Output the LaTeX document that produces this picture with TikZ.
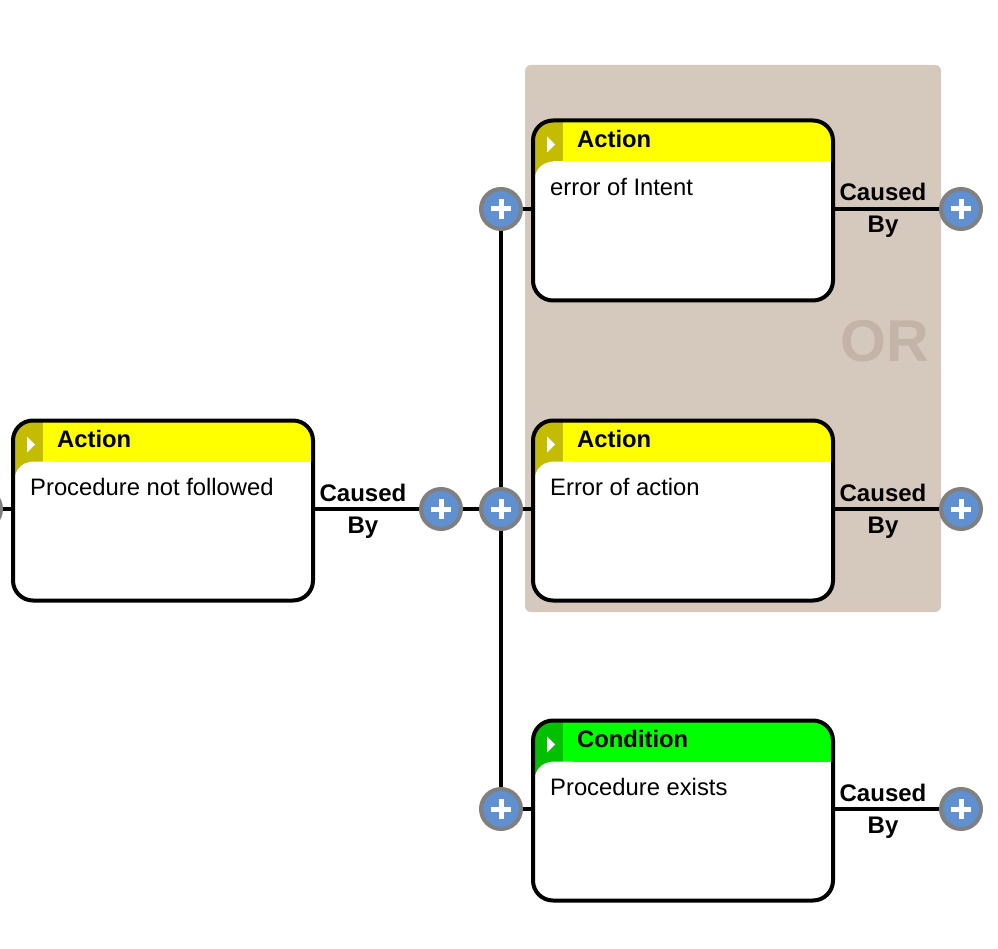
\documentclass[tikz,border=0pt]{standalone}
\usepackage{fontspec}
\setmainfont{Liberation Sans}
\definecolor{panelc}{HTML}{D5C8BC}
\definecolor{orc}{HTML}{C3B4A7}
\definecolor{plusblue}{HTML}{6090D0}
\definecolor{plusgray}{HTML}{808080}
\definecolor{yellowhead}{HTML}{FFFF00}
\definecolor{yellowband}{HTML}{C4BC00}
\definecolor{greenhead}{HTML}{00FF00}
\definecolor{greenband}{HTML}{00C000}
\tikzset{
  x=1pt,y=-1pt,
  conn/.style={line width=4pt,draw=black},
  boxnode/.style 2 args={rectangle,draw=black,line width=4pt,fill=white,rounded corners=20pt,
    minimum width=300pt,minimum height=180pt,inner sep=0pt,
    path picture={
      \fill[#1,sharp corners] (-150,-90) rectangle (150,-49);
      \fill[#2,sharp corners] (-150,-90) rectangle (-120,-49);
      \fill[#2,sharp corners] (-150,-49) rectangle (-130,-30);
      \fill[white,sharp corners] (-150,-20) .. controls (-150,-38) and (-144,-49) .. (-128,-49) -- (-110,-49) -- (-110,-20) -- cycle;
      \fill[white,sharp corners] (-136,-74) -- (-128,-66) -- (-136,-58) -- cycle;
    }},
  titletext/.style={anchor=base west,inner sep=0pt,font=\fontsize{23.8}{28}\selectfont\bfseries},
  bodytext/.style={anchor=base west,inner sep=0pt,font=\fontsize{23.8}{28}\selectfont},
  causetext/.style={anchor=base,inner sep=0pt,align=center,font=\fontsize{24}{28}\selectfont\bfseries},
  plusnode/.style={circle,draw=plusgray,fill=plusblue,line width=4pt,minimum size=40pt,inner sep=0pt,
    path picture={
      \draw[white,line width=5pt] (-10,0) -- (10,0);
      \draw[white,line width=5pt] (0,-10) -- (0,10);
    }},
}
\begin{document}
\begin{tikzpicture}
\useasboundingbox (0,0) rectangle (998,949);
\clip (0,0) rectangle (998,949);
\fill[white] (0,0) rectangle (998,949);
\node[fill=panelc,rounded corners=6pt,inner sep=0pt,minimum width=416pt,minimum height=547pt] (panel) at (733,338.5) {};
\node[anchor=center,inner sep=0pt,text=orc,font=\fontsize{59}{64}\selectfont\bfseries] (ortext) at (885,341) {OR};

\node[plusnode] (pT) at (501,209) {};
\node[plusnode] (pM) at (501,509) {};
\node[plusnode] (pB) at (501,809) {};
\node[plusnode] (pL) at (441,509) {};
\node[plusnode] (pX) at (-19,509) {};
\node[plusnode] (rT) at (961,209) {};
\node[plusnode] (rM) at (961,509) {};
\node[plusnode] (rB) at (961,809) {};

\node[boxnode={yellowhead}{yellowband}] (a0) at (163,510.5) {};
\node[boxnode={yellowhead}{yellowband}] (a1) at (683,210.5) {};
\node[boxnode={yellowhead}{yellowband}] (a2) at (683,510.5) {};
\node[boxnode={greenhead}{greenband}] (a3) at (683,810.5) {};

\draw[conn] (pT) -- (pM);
\draw[conn] (pM) -- (pB);
\draw[conn] (pT) -- (a1.west |- pT);
\draw[conn] (pM) -- (a2.west |- pM);
\draw[conn] (pB) -- (a3.west |- pB);
\draw[conn] (a0.east |- pL) -- (pL);
\draw[conn] (pL) -- (pM);
\draw[conn] (pX) -- (a0.west |- pX);
\draw[conn] (a1.east |- rT) -- (rT);
\draw[conn] (a2.east |- rM) -- (rM);
\draw[conn] (a3.east |- rB) -- (rB);

\node[titletext] (t0) at ([shift={(46,29)}]a0.north west) {Action};
\node[bodytext] (b0) at ([shift={(19,77)}]a0.north west) {Procedure not followed};
\node[titletext] (t1) at ([shift={(46,29)}]a1.north west) {Action};
\node[bodytext] (b1) at ([shift={(19,77)}]a1.north west) {error of Intent};
\node[titletext] (t2) at ([shift={(46,29)}]a2.north west) {Action};
\node[bodytext] (b2) at ([shift={(19,77)}]a2.north west) {Error of action};
\node[titletext] (t3) at ([shift={(46,29)}]a3.north west) {Condition};
\node[bodytext] (b3) at ([shift={(19,77)}]a3.north west) {Procedure exists};

\foreach \n/\cx/\cy in {c0/363/509,c1/883/209,c2/883/509,c3/883/809}{
  \node[causetext] (\n u) at (\cx,\cy-8) {Caused};
  \node[causetext] (\n l) at (\cx,\cy+24) {By};
}
\end{tikzpicture}
\end{document}
